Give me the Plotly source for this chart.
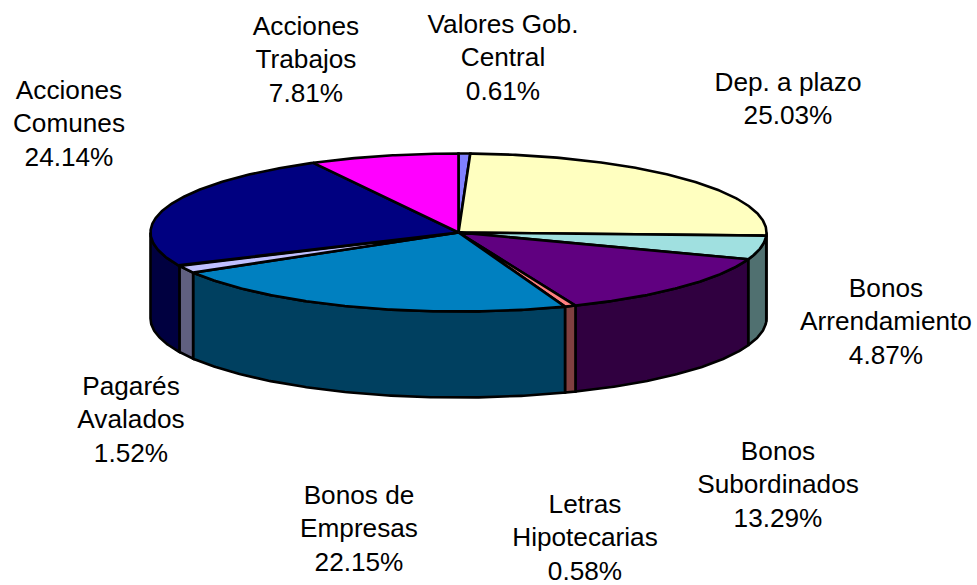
import numpy as np
import plotly.graph_objects as go

categories = ["Valores Gob. Central", "Dep. a plazo", "Bonos Arrendamiento", "Bonos Subordinados",
              "Letras Hipotecarias", "Bonos de Empresas", "Pagarés Avalados", "Acciones Comunes",
              "Acciones Trabajos"]
values = [0.61, 25.03, 4.87, 13.29, 0.58, 22.15, 1.52, 24.14, 7.81]
label_lines = [["Valores Gob.", "Central"], ["Dep. a plazo"], ["Bonos", "Arrendamiento"],
               ["Bonos", "Subordinados"], ["Letras", "Hipotecarias"], ["Bonos de", "Empresas"],
               ["Pagarés", "Avalados"], ["Acciones", "Comunes"], ["Acciones", "Trabajos"]]
top_colors = ["#8080FF", "#FFFFC0", "#A0E0E0", "#600080", "#FF8080", "#0080C0", "#C0C0FF", "#000080", "#FF00FF"]
side_colors = ["#404080", "#808060", "#507070", "#300040", "#804040", "#004060", "#606080", "#000040", "#800080"]

# layout
W, H = 977, 585
CX, CY, RX, RY, DEPTH = 458.5, 232.5, 308, 79, 86
LINE_W = 2.6
FONT = dict(family="Liberation Sans, Arial, sans-serif", size=26.2, color="black")
label_x = [503, 788, 886, 778, 585, 359, 131, 69, 306]
label_y = [26, 84, 290, 453, 506, 497, 388, 92, 28]
LINE_GAP = 33.6


def rim(a0, a1, dy=0.0):
    t = np.radians(np.linspace(a0, a1, max(2, int(abs(a1 - a0) * 2) + 2)))
    return CX + RX * np.sin(t), CY - RY * np.cos(t) + dy


fig = go.Figure()
total = sum(values)
edges = np.concatenate([[0], np.cumsum(values)]) / total * 360

# front walls, drawn first
for i in range(len(values)):
    a0, a1 = max(edges[i], 90), min(edges[i + 1], 270)
    if a1 <= a0:
        continue
    x0, y0 = rim(a0, a1)
    x1, y1 = rim(a1, a0, DEPTH)
    fig.add_trace(go.Scatter(x=np.r_[x0, x1, x0[0]], y=np.r_[y0, y1, y0[0]], mode="lines", fill="toself",
                             fillcolor=side_colors[i], line=dict(color="black", width=LINE_W),
                             hoverinfo="skip", showlegend=False))

# top face
for i, name in enumerate(categories):
    x, y = rim(edges[i], edges[i + 1])
    fig.add_trace(go.Scatter(x=np.r_[CX, x, CX], y=np.r_[CY, y, CY], mode="lines", fill="toself",
                             fillcolor=top_colors[i], line=dict(color="black", width=LINE_W),
                             name=name, text=f"{name}: {values[i]:.2f}%", hoverinfo="text", showlegend=False))

# labels
tx, ty, tt = [], [], []
for i in range(len(values)):
    lines = label_lines[i] + [f"{values[i]:.2f}%"]
    for j, s in enumerate(lines):
        tx.append(label_x[i])
        ty.append(label_y[i] + j * LINE_GAP)
        tt.append(s)
fig.add_trace(go.Scatter(x=tx, y=ty, text=tt, mode="text", textposition="middle center",
                         textfont=FONT, hoverinfo="skip", showlegend=False, cliponaxis=False))

fig.update_layout(width=W, height=H, margin=dict(l=0, r=0, t=0, b=0), paper_bgcolor="white", plot_bgcolor="white",
                  xaxis=dict(range=[0, W], visible=False, fixedrange=True),
                  yaxis=dict(range=[H, 0], visible=False, fixedrange=True))
fig.write_html("out.html", config=dict(displayModeBar=False),
               post_script="document.body.style.margin='0';document.documentElement.style.overflow='hidden';")
